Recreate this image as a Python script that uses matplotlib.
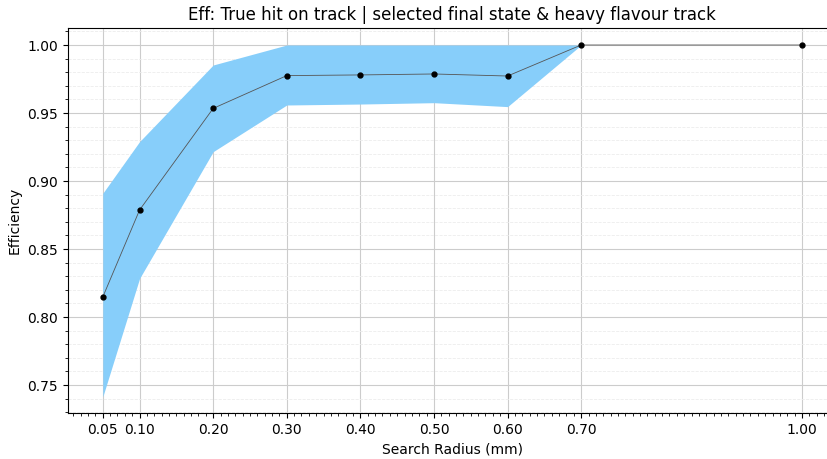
import numpy as np
import matplotlib.pyplot as plt
from matplotlib.ticker import MultipleLocator, FormatStrFormatter

radius = [0.05, 0.10, 0.20, 0.30, 0.40, 0.50, 0.60, 0.70, 1.00]
eff = [0.8147, 0.8787, 0.9534, 0.9775, 0.9780, 0.9787, 0.9772, 1.0, 1.0]
eff_low = [0.7414, 0.8284, 0.9216, 0.9559, 0.9566, 0.9576, 0.9547, 1.0, 1.0]
eff_high = [0.8910, 0.9290, 0.9853, 1.0, 1.0, 1.0, 1.0, 1.0, 1.0]

fig = plt.figure(figsize=(8.27, 4.59), dpi=100)
ax = fig.add_axes([0.082, 0.100, 0.93, 0.839])

ax.fill_between(radius, eff_low, eff_high, color="lightskyblue", linewidth=0)
ax.plot(radius, eff, color="#555555", linewidth=0.6, marker="o",
        markersize=3.5, markerfacecolor="black", markeredgecolor="black")

ax.set_xlim(0.0025, 1.0475)
ax.set_ylim(0.7294, 1.0125)
ax.set_xticks(radius)
ax.xaxis.set_major_formatter(FormatStrFormatter("%.2f"))
ax.xaxis.set_minor_locator(MultipleLocator(0.01))
ax.yaxis.set_major_locator(MultipleLocator(0.05))
ax.yaxis.set_minor_locator(MultipleLocator(0.01))
ax.yaxis.set_major_formatter(FormatStrFormatter("%.2f"))

ax.grid(which="major", color="#cccccc", linewidth=0.8)
ax.grid(which="minor", axis="y", color="#ececec", linestyle="--", linewidth=0.6)
ax.set_axisbelow(True)

ax.set_title("Eff: True hit on track | selected final state & heavy flavour track", fontsize=12)
ax.set_xlabel("Search Radius (mm)")
ax.set_ylabel("Efficiency")

fig.savefig("out.png", dpi=100)
